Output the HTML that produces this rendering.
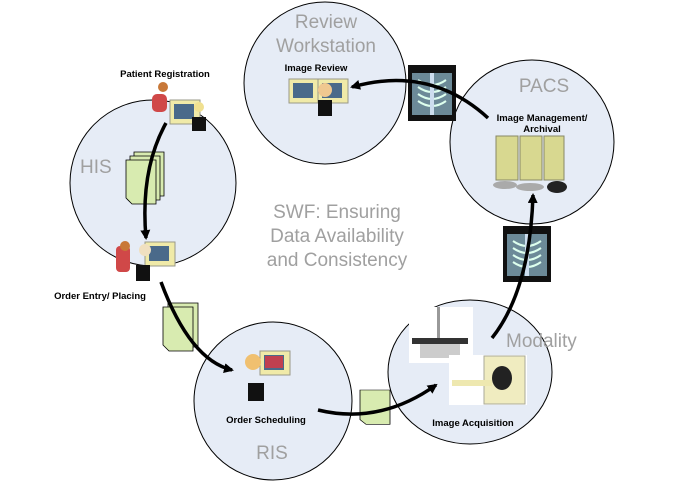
<!DOCTYPE html>
<html><head><meta charset="utf-8"><style>
html,body{margin:0;padding:0;background:#fff;}
svg{display:block;}
.big{font-family:"Liberation Sans",sans-serif;fill:#a0a0a0;font-size:19px;}
.lab{font-family:"Liberation Sans",sans-serif;font-weight:bold;font-size:9.5px;fill:#000;}
</style></head><body>
<svg width="673" height="481" viewBox="0 0 673 481" xmlns="http://www.w3.org/2000/svg">
<defs>
<marker id="ah" markerWidth="10" markerHeight="10" refX="8" refY="5" orient="auto" markerUnits="userSpaceOnUse">
<path d="M0,0 L10,5 L0,10 Z" fill="#000"/></marker>
<g id="doc"><path d="M0,0 H30 V44 H6 L0,38 Z" fill="#d8ebb0" stroke="#000" stroke-width="0.8"/></g>
<g id="xray"><rect x="0" y="0" width="48" height="56" fill="#111"/><rect x="4" y="8" width="40" height="42" fill="#6c8a98"/><path d="M10,15 Q24,25 38,15 M10,22 Q24,32 38,22 M10,29 Q24,39 38,29 M10,36 Q24,46 38,36" stroke="#dfe" stroke-width="2" fill="none"/><rect x="22" y="8" width="4" height="42" fill="#cde"/></g>
<g id="pc"><rect x="0" y="0" width="30" height="24" fill="#f0eaa8" stroke="#998" stroke-width="1"/><rect x="4" y="4" width="20" height="15" fill="#4a6a8a"/></g>
</defs>
<ellipse cx="153" cy="183" rx="83" ry="83" fill="#e6ecf6" stroke="#000"/>
<ellipse cx="325" cy="83" rx="81" ry="81" fill="#e6ecf6" stroke="#000"/>
<ellipse cx="532" cy="142" rx="82" ry="82" fill="#e6ecf6" stroke="#000"/>
<ellipse cx="273" cy="401" rx="79" ry="79" fill="#e6ecf6" stroke="#000"/>
<ellipse cx="470" cy="372" rx="82" ry="72" fill="#e6ecf6" stroke="#000"/>

<text class="big" x="80" y="173">HIS</text>
<text class="big" x="326" y="28" text-anchor="middle">Review</text>
<text class="big" x="326" y="52" text-anchor="middle">Workstation</text>
<text class="big" x="544" y="92" text-anchor="middle">PACS</text>
<text class="big" x="506" y="347">Modality</text>
<text class="big" x="272" y="459" text-anchor="middle">RIS</text>
<text class="big" x="337" y="218" text-anchor="middle">SWF: Ensuring</text>
<text class="big" x="337" y="242" text-anchor="middle">Data Availability</text>
<text class="big" x="337" y="266" text-anchor="middle">and Consistency</text>

<text class="lab" x="165" y="77" text-anchor="middle">Patient Registration</text>
<text class="lab" x="316" y="71" text-anchor="middle">Image Review</text>
<text class="lab" x="542" y="121" text-anchor="middle">Image Management/</text>
<text class="lab" x="542" y="132" text-anchor="middle">Archival</text>
<text class="lab" x="100" y="299" text-anchor="middle">Order Entry/ Placing</text>
<text class="lab" x="266" y="423" text-anchor="middle">Order Scheduling</text>
<text class="lab" x="473" y="426" text-anchor="middle">Image Acquisition</text>

<!-- people icons -->
<circle cx="163" cy="87" r="5" fill="#c87838"/><rect x="152" y="94" width="15" height="18" rx="5" fill="#d04848"/>
<use href="#pc" x="170" y="100"/><circle cx="199" cy="107" r="5" fill="#f0e090"/><rect x="192" y="117" width="14" height="14" fill="#111"/>
<use href="#pc" x="289" y="79"/><use href="#pc" x="318" y="79"/><circle cx="325" cy="90" r="7" fill="#f0c890"/><rect x="318" y="100" width="14" height="16" fill="#111"/>
<rect x="116" y="246" width="14" height="26" rx="4" fill="#d04848"/><circle cx="125" cy="246" r="5" fill="#c87838"/>
<use href="#pc" x="145" y="242"/><circle cx="145" cy="250" r="6" fill="#f0e0c0"/><rect x="136" y="265" width="14" height="16" fill="#111"/>
<use href="#pc" x="260" y="351"/><rect x="265" y="356" width="18" height="12" fill="#c04050"/><circle cx="253" cy="362" r="8" fill="#f0c070"/><rect x="248" y="383" width="16" height="18" fill="#111"/>
<!-- servers -->
<rect x="496" y="136" width="22" height="44" fill="#d8d890" stroke="#886"/>
<rect x="520" y="136" width="22" height="44" fill="#d8d890" stroke="#886"/>
<rect x="544" y="136" width="20" height="44" fill="#d8d890" stroke="#886"/>
<ellipse cx="505" cy="185" rx="12" ry="4" fill="#aaa"/><ellipse cx="530" cy="187" rx="14" ry="4" fill="#aaa"/>
<ellipse cx="557" cy="187" rx="10" ry="6" fill="#222"/>
<!-- modality -->
<rect x="409" y="307" width="64" height="56" fill="#fff"/><rect x="412" y="338" width="56" height="6" fill="#333"/><rect x="420" y="344" width="40" height="14" fill="#ccc"/><rect x="437" y="307" width="3" height="31" fill="#999"/>
<rect x="449" y="355" width="78" height="50" fill="#fff"/><rect x="484" y="356" width="41" height="48" fill="#f0ecc0" stroke="#aa9"/><ellipse cx="502" cy="378" rx="10" ry="12" fill="#222"/><rect x="452" y="380" width="40" height="6" fill="#eee8b0"/>
<!-- docs -->
<use href="#doc" x="134" y="152"/><use href="#doc" x="130" y="156"/><use href="#doc" x="126" y="160"/>
<use href="#doc" x="168" y="303"/><use href="#doc" x="163" y="307"/>
<g transform="translate(360,390) scale(1,0.78)"><use href="#doc"/></g>
<use href="#xray" x="408" y="65"/>
<use href="#xray" x="503" y="226"/>
<!-- arrows -->
<g fill="none" stroke="#000" stroke-width="3.5" marker-end="url(#ah)">
<path d="M166,123 Q140,170 146,238"/>
<path d="M161,282 Q190,360 232,370"/>
<path d="M318,410 Q380,425 436,385"/>
<path d="M492,338 Q530,290 533,195"/>
<path d="M488,118 Q430,65 352,87"/>
</g>
</svg>
</body></html>
